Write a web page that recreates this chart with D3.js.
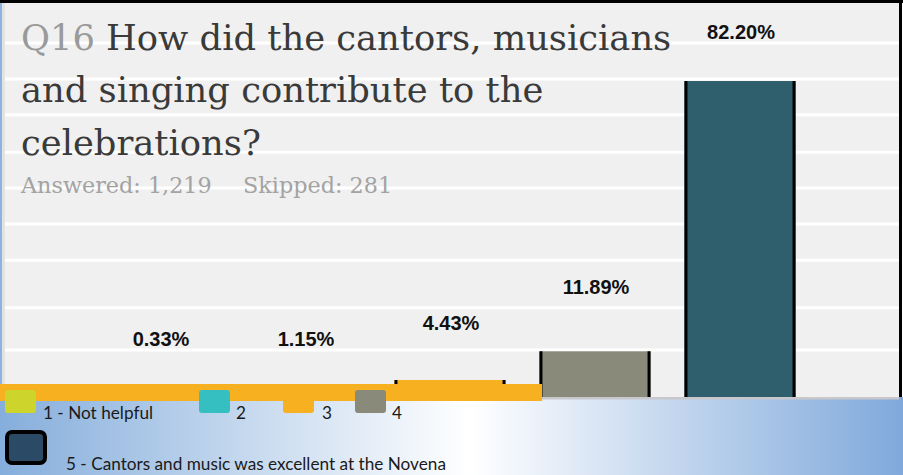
<!DOCTYPE html>
<html>
<head>
<meta charset="utf-8">
<script src="https://cdn.jsdelivr.net/npm/d3@7/dist/d3.min.js"></script>
<style>
  html, body { margin: 0; padding: 0; background: #ffffff; }
  svg { display: block; }
</style>
</head>
<body>
<script>
// Survey question Q16: share of answers per rating
const categories = ["1 - Not helpful", "2", "3", "4", "5 - Cantors and music was excellent at the Novena"];
const percentages = [0.33, 1.15, 4.43, 11.89, 82.20];
const barColors = ["#cdd42c", "#35bfc1", "#f7b020", "#8a8a7a", "#2f5f6d"];
const swatchColors = ["#cdd42c", "#35bfc1", "#f7b020", "#8a8a7a", "#2a4a66"];
const gridValues = [12.2, 23.2, 35.6, 45.0, 54.4, 63.7, 73.4, 82.7, 92.1];
const titleLines = ["How did the cantors, musicians", "and singing contribute to the", "celebrations?"];
const answered = "Answered: 1,219";
const skipped = "Skipped: 281";

// layout
const W = 903, H = 475;
const plot = { left: 2, right: 899, top: 3, bottom: 397 };
const labelRise = [50, 47, 50, 57, 42];
const legendRow1X = [5, 199, 283, 355];
const legendLabelGap = [38, 37, 39, 37];

const svg = d3.select("body").append("svg").attr("width", W).attr("height", H);
const defs = svg.append("defs");
const grad = defs.append("linearGradient").attr("id", "legendBg")
  .attr("x1", "0%").attr("x2", "100%").attr("y1", "0%").attr("y2", "0%");
grad.append("stop").attr("offset", "0%").attr("stop-color", "#86aedc");
grad.append("stop").attr("offset", "52%").attr("stop-color", "#ffffff");
grad.append("stop").attr("offset", "100%").attr("stop-color", "#80a9db");

// legend backdrop
svg.append("rect").attr("x", 0).attr("y", plot.bottom).attr("width", W).attr("height", H - plot.bottom)
  .attr("fill", "url(#legendBg)");

// plot background
svg.append("rect").attr("x", 0).attr("y", 0).attr("width", 2).attr("height", plot.bottom).attr("fill", "#8cb2de");
svg.append("rect").attr("x", plot.left).attr("y", plot.top).attr("width", 3).attr("height", plot.bottom - plot.top).attr("fill", "#e3e3e3");
svg.append("rect").attr("x", 5).attr("y", plot.top).attr("width", plot.right - 5).attr("height", plot.bottom - plot.top).attr("fill", "#f0f0f0");

const y = d3.scaleLinear().domain([0, 100]).range([plot.bottom, plot.bottom - 384.4]);
const x = d3.scaleBand().domain(categories).range([87.5, 812.5]).paddingInner(0.234).paddingOuter(0.117);

// gridlines
svg.append("g").selectAll("line").data(gridValues).join("line")
  .attr("x1", 5).attr("x2", plot.right)
  .attr("y1", d => y(d)).attr("y2", d => y(d))
  .attr("stroke", "#ffffff").attr("stroke-width", 3);

// title
const title = svg.append("g").attr("font-family", "'DejaVu Serif', serif");
const t1 = title.append("text").attr("x", 21).attr("y", 50).attr("font-size", 35.3);
t1.append("tspan").attr("fill", "#9a9a9a").text("Q16 ");
t1.append("tspan").attr("fill", "#3a3a3a").text(titleLines[0]);
title.append("text").attr("x", 21).attr("y", 102).attr("font-size", 35.3).attr("fill", "#3a3a3a").text(titleLines[1]);
title.append("text").attr("x", 21).attr("y", 155).attr("font-size", 35.3).attr("fill", "#3a3a3a").text(titleLines[2]);
title.append("text").attr("x", 21).attr("y", 193).attr("font-size", 22.3).attr("fill", "#a3a3a3").text(answered);
title.append("text").attr("x", 243).attr("y", 193).attr("font-size", 22.3).attr("fill", "#a3a3a3").text(skipped);

// bars
const bars = svg.append("g").selectAll("g").data(categories).join("g");
bars.append("rect")
  .attr("x", d => x(d)).attr("width", x.bandwidth())
  .attr("y", (d, i) => y(percentages[i]))
  .attr("height", (d, i) => y(0) - y(percentages[i]))
  .attr("fill", (d, i) => barColors[i]);
bars.each(function (d, i) {
  const g = d3.select(this);
  [x(d) + 1.5, x(d) + x.bandwidth() - 1.5].forEach(px => {
    g.append("line").attr("x1", px).attr("x2", px)
      .attr("y1", y(percentages[i])).attr("y2", y(0))
      .attr("stroke", "#000").attr("stroke-width", 3);
  });
});

// baseline and band of series 3 colour
svg.append("rect").attr("x", 0).attr("y", plot.bottom).attr("width", plot.right).attr("height", 2.5).attr("fill", "#c8c8cc");
svg.append("rect").attr("x", 0).attr("y", 384).attr("width", 542).attr("height", 17).attr("fill", swatchColors[2]);

// legend
const legend = svg.append("g").attr("font-family", "Lato, 'Open Sans', sans-serif").attr("font-size", 17.2).attr("fill", "#1a1a1a");
legendRow1X.forEach((lx, i) => {
  legend.append("rect").attr("x", lx).attr("y", 390).attr("width", 31).attr("height", 23).attr("rx", 3)
    .attr("fill", swatchColors[i]);
  legend.append("text").attr("x", lx + legendLabelGap[i]).attr("y", 419).text(categories[i]);
});
legend.append("rect").attr("x", 7).attr("y", 432).attr("width", 38).attr("height", 31).attr("rx", 5)
  .attr("fill", swatchColors[4]).attr("stroke", "#000").attr("stroke-width", 4);
legend.append("text").attr("x", 66).attr("y", 470).text(categories[4]);

// value labels
svg.append("g").selectAll("text").data(categories).join("text")
  .attr("x", d => x(d) + x.bandwidth() / 2 + 1)
  .attr("y", (d, i) => y(percentages[i]) - labelRise[i])
  .attr("text-anchor", "middle")
  .attr("font-family", "'Liberation Sans', Arial, sans-serif")
  .attr("font-weight", "bold").attr("font-size", 20).attr("fill", "#111")
  .text((d, i) => percentages[i].toFixed(2) + "%");

// frame
svg.append("rect").attr("x", 0).attr("y", 0).attr("width", W).attr("height", 3).attr("fill", "#000");
svg.append("rect").attr("x", plot.right).attr("y", 0).attr("width", 3).attr("height", plot.bottom).attr("fill", "#000");
</script>
</body>
</html>
